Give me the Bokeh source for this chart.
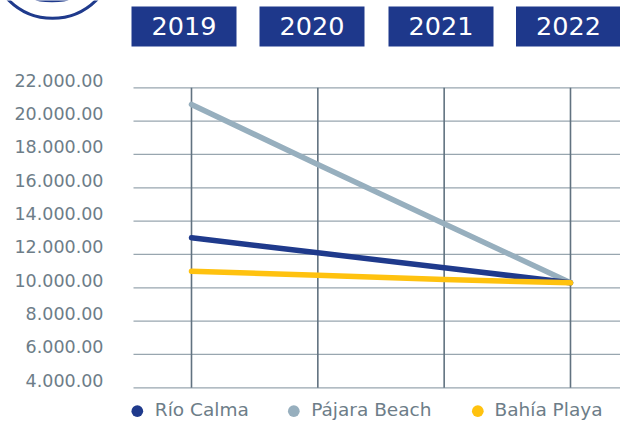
from bokeh.plotting import figure
from bokeh.models import Range1d
from bokeh.core.properties import value
from bokeh.embed import file_html
from bokeh.resources import INLINE

# ---- data ----
years = ["2019", "2020", "2021", "2022"]
series_names = ["Río Calma", "Pájara Beach", "Bahía Playa"]
rio_calma = [13000, 12100, 11200, 10300]
pajara_beach = [21000, 17400, 13850, 10300]
bahia_playa = [11000, 10750, 10500, 10300]
y_ticks = [4000, 6000, 8000, 10000, 12000, 14000, 16000, 18000, 20000, 22000]
y_tick_labels = ["4.000.00", "6.000.00", "8.000.00", "10.000.00", "12.000.00",
                 "14.000.00", "16.000.00", "18.000.00", "20.000.00", "22.000.00"]

# ---- layout constants (pixel geometry) ----
W, H = 620, 421
X0, DX = 191.0, 126.33          # pixel of first year, pixels per year
Y_TOP_TICK, PX_PER_UNIT = 87.3, 16.667 / 1000.0
BASE_SHIFT = 0.43               # renderer baseline correction (em)

def xd(px):
    return (px - X0) / DX

def yd(py):
    return 22000 - (py - Y_TOP_TICK) / PX_PER_UNIT

BLUE = "#1f3a8c"
GREY = "#97afbe"
YELLOW = "#ffc20f"
TEXT = "#6d7d88"
FONT = value("DejaVu Sans")

TICK_FS, HEAD_FS, LEG_FS = 17.5, 25.5, 18.5

p = figure(width=W, height=H, output_backend="svg", toolbar_location=None,
           x_range=Range1d(xd(0), xd(W)), y_range=Range1d(yd(H), yd(0)),
           x_axis_location=None, y_axis_location=None, min_border=0,
           outline_line_color=None, background_fill_color="white",
           border_fill_color="white")
p.grid.visible = False

idx = list(range(len(years)))

# horizontal grid lines
p.segment(x0=xd(133), x1=xd(W), y0=y_ticks, y1=y_ticks,
          line_color="#98a6af", line_width=1.2)
# vertical year lines
p.segment(x0=idx, x1=idx, y0=min(y_ticks), y1=max(y_ticks),
          line_color="#617280", line_width=1.6)

# y tick labels
p.text(x=xd(103), y=y_ticks, text=y_tick_labels, text_align="right",
       y_offset=-BASE_SHIFT * TICK_FS,
       text_baseline="alphabetic", text_font=FONT, text_font_size=f"{TICK_FS}px",
       text_color=TEXT)

# series lines
for vals, col in [(pajara_beach, GREY), (rio_calma, BLUE), (bahia_playa, YELLOW)]:
    p.line(idx, vals, line_color=col, line_width=5.5, line_cap="round", line_join="round")

# header year boxes
box_centers_px = [183.5, 311.5, 440.5, 568.0]
bx = [xd(c) for c in box_centers_px]
p.rect(x=bx, y=yd(26), width=105 / DX, height=40 / PX_PER_UNIT,
       fill_color="#1e388b", line_color=None)
p.text(x=bx, y=yd(36 - BASE_SHIFT * HEAD_FS), text=years, text_align="center",
       text_baseline="alphabetic",
       text_font=FONT, text_font_size=f"{HEAD_FS}px", text_color="white")

# partial logo circle at top-left
p.circle(x=xd(52), y=yd(-44.2), radius=62, radius_units="screen",
         fill_color=None, line_color=BLUE, line_width=3)
p.ellipse(x=xd(51.5), y=yd(-1.0), width=34, height=5.5,
          width_units="screen", height_units="screen",
          fill_color=BLUE, line_color=None)

# legend
leg_cx = [136.8, 293.3, 477.3]
leg_tx = [154.3, 310.7, 494.0]
p.scatter(x=[xd(c) for c in leg_cx], y=yd(410.7), size=11.7,
          fill_color=[BLUE, GREY, YELLOW], line_color=None)
p.text(x=[xd(t) for t in leg_tx], y=yd(417 - BASE_SHIFT * LEG_FS), text=series_names,
       text_align="left", text_baseline="alphabetic", text_font=FONT,
       text_font_size=f"{LEG_FS}px", text_color=TEXT)

open("out.html", "w").write(file_html(p, INLINE))
